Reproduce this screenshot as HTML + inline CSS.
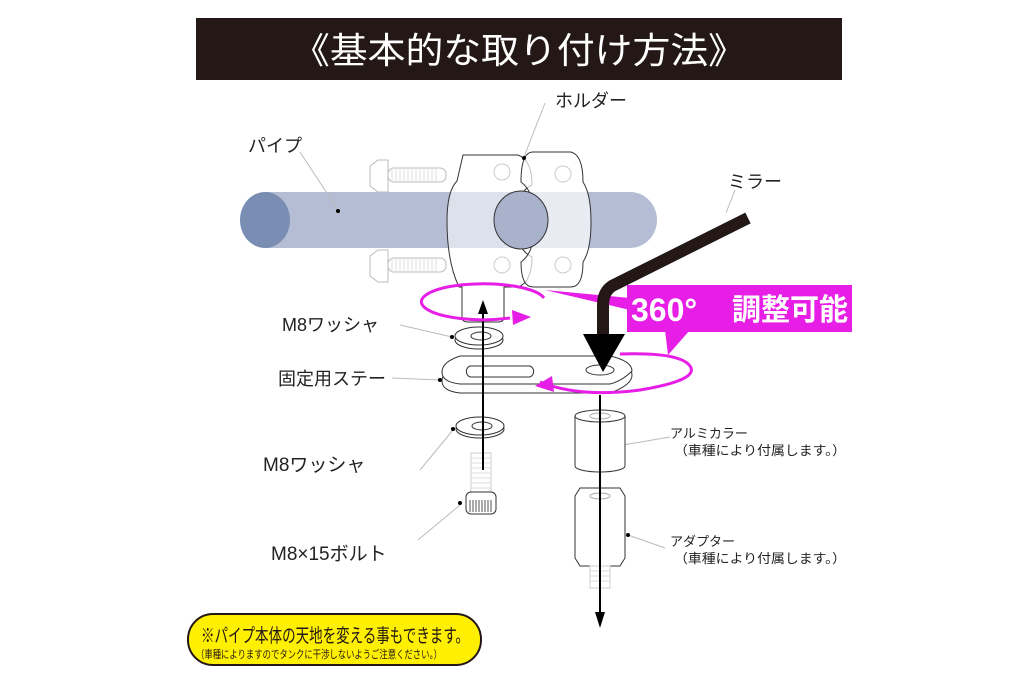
<!DOCTYPE html>
<html><head><meta charset="utf-8"><style>
html,body{margin:0;padding:0;background:#fff;}
svg{display:block;}
text{font-family:"Liberation Sans","Noto Sans CJK JP",sans-serif;}
</style></head><body>
<svg width="1024" height="682" viewBox="0 0 1024 682" xmlns="http://www.w3.org/2000/svg">
<rect width="1024" height="682" fill="#fff"/>
<!-- title -->
<rect x="196" y="18" width="646" height="62" fill="#231815"/>
<text x="292" y="63" font-size="36" fill="#fff" textLength="454" lengthAdjust="spacingAndGlyphs">《基本的な取り付け方法》</text>

<!-- bolts -->
<g fill="#fff" stroke="#bbb" stroke-width="1">
<path d="M370 166 l8 -6 h10 v32 h-10 l-8 -6 z"/><rect x="388" y="168" width="58" height="14" rx="6"/>
<path d="M370 256 l8 -6 h10 v32 h-10 l-8 -6 z"/><rect x="388" y="258" width="58" height="14" rx="6"/>
</g>
<g stroke="#ddd" stroke-width="1">
<path d="M392 168 v14 M396 168 v14 M400 168 v14 M404 168 v14 M408 168 v14 M412 168 v14 M416 168 v14 M420 168 v14 M424 168 v14 M428 168 v14 M432 168 v14 M436 168 v14"/>
<path d="M392 258 v14 M396 258 v14 M400 258 v14 M404 258 v14 M408 258 v14 M412 258 v14 M416 258 v14 M420 258 v14 M424 258 v14 M428 258 v14 M432 258 v14 M436 258 v14"/>
</g>

<!-- pipe -->
<path d="M265 192 H630 a27 28 0 0 1 0 56 H265 z" fill="#b4bdd3"/>
<ellipse cx="265" cy="220" rx="25" ry="28" fill="#7a8db2"/>

<!-- holder left -->
<path d="M463 155 h55 q14 5 14 30 v0 q-10 5 -12 14 q-14 5 -14 22 q0 17 14 22 q2 9 12 14 q0 25 -14 30 h-14 v30 q0 5 -6 5 h-30 q-6 0 -6 -5 v-30 h-3 q-12 -25 -12 -66 q0 -30 10 -40 z" fill="#fff" fill-opacity="0.55" stroke="#333" stroke-width="1"/>
<circle cx="502" cy="172" r="8" fill="none" stroke="#ccc"/>
<circle cx="502" cy="265" r="8" fill="none" stroke="#ccc"/>
<!-- holder right -->
<path d="M533 152 h38 q12 3 12 30 q8 12 8 40 q0 28 -8 40 q0 25 -12 25 h-38 q-12 0 -12 -25 q14 -10 14 -40 q0 -30 -14 -40 q0 -30 12 -30 z" fill="#fff" fill-opacity="0.7" stroke="#333" stroke-width="1"/>
<ellipse cx="521" cy="220" rx="27" ry="29" fill="#a8b2cb" stroke="#333" stroke-width="1"/>
<circle cx="563" cy="174" r="8" fill="none" stroke="#ccc"/>
<circle cx="563" cy="265" r="8" fill="none" stroke="#ccc"/>

<!-- leader lines -->
<g stroke="#bbb" stroke-width="1" fill="none">
<path d="M300 152 L338 210"/><path d="M545 103 L524 157"/><path d="M735 190 L726 213"/>
<path d="M400 325 L452 337"/><path d="M392 378 L440 380"/><path d="M420 470 L453 430"/>
<path d="M418 540 L460 505"/><path d="M623 445 L670 437"/><path d="M628 535 L665 548"/>
</g>
<g fill="#000"><circle cx="338" cy="211" r="2"/><circle cx="524" cy="158" r="2"/><circle cx="452" cy="337" r="2"/><circle cx="440" cy="380" r="2"/><circle cx="453" cy="429" r="2"/><circle cx="460" cy="503" r="2"/><circle cx="622" cy="445" r="2"/><circle cx="628" cy="535" r="2"/></g>

<!-- washer 1 -->
<ellipse cx="479" cy="340" rx="24" ry="9" fill="#fff" stroke="#333"/>
<ellipse cx="479" cy="336" rx="24" ry="9" fill="#fff" stroke="#333"/>
<ellipse cx="481" cy="336" rx="10" ry="4" fill="none" stroke="#333"/>
<!-- stay -->
<path d="M460 360 h150 q22 5 22 15 q0 10 -22 18 h-150 q-18 -2 -18 -12 q0 -10 18 -21 z" fill="#fff" stroke="#333"/>
<path d="M460 356 h150 q22 5 22 15 q-10 10 -22 13 h-150 q-18 -2 -18 -12 q0 -10 18 -16 z" fill="#fff" stroke="#333"/>
<path d="M470 366 h60 a6 6 0 0 1 0 11 h-60 a6 6 0 0 1 0 -11 z" fill="none" stroke="#333"/>
<ellipse cx="600" cy="370" rx="14" ry="5" fill="none" stroke="#333"/>
<!-- washer 2 -->
<ellipse cx="480" cy="429" rx="24" ry="9" fill="#fff" stroke="#333"/>
<ellipse cx="480" cy="426" rx="24" ry="9" fill="#fff" stroke="#333"/>
<ellipse cx="482" cy="426" rx="10" ry="4" fill="none" stroke="#333"/>
<!-- bolt -->
<rect x="471" y="453" width="20" height="40" fill="#fff" stroke="#ccc"/>
<g stroke="#ddd"><path d="M471 458h20M471 463h20M471 468h20M471 473h20M471 478h20M471 483h20M471 488h20"/></g>
<rect x="466" y="492" width="30" height="22" rx="5" fill="#fff" stroke="#333"/>
<g stroke="#555"><path d="M470 500v12M473 500v12M476 500v12M479 500v12M482 500v12M485 500v12M488 500v12M491 500v12"/></g>

<!-- collar -->
<path d="M575 416 v50 a25 6 0 0 0 50 0 v-50" fill="#fff" stroke="#333"/>
<ellipse cx="600" cy="416" rx="25" ry="6" fill="#fff" stroke="#333"/>
<ellipse cx="600" cy="416" rx="10" ry="3" fill="none" stroke="#aaa"/>
<!-- adapter -->
<path d="M580 488 h40 l5 8 v62 l-5 8 h-40 l-5 -8 v-62 z" fill="#fff" stroke="#333"/>
<ellipse cx="600" cy="496" rx="10" ry="3" fill="none" stroke="#aaa"/>
<rect x="590" y="566" width="20" height="22" fill="#fff" stroke="#ccc"/>
<g stroke="#ddd"><path d="M590 571h20M590 576h20M590 581h20"/></g>

<!-- vertical arrows -->
<path d="M483 470 V312" stroke="#000" stroke-width="2"/>
<path d="M478 314 L483 300 L488 314 z" fill="#000"/>
<path d="M600 395 V615" stroke="#000" stroke-width="2"/>
<path d="M595 612 L600 628 L605 612 z" fill="#000"/>

<!-- magenta rings -->
<g fill="none" stroke="#e61ee6" stroke-width="3">
<path d="M544 298 A62 18 0 1 0 510 318"/>
<path d="M540 382 Q580 398 640 390 Q700 380 690 366 Q680 352 620 354"/>
</g>
<path d="M512 310 L531 317 L513 325 z" fill="#e61ee6"/>
<path d="M535 386 L552 376 L554 392 z" fill="#e61ee6"/>
<!-- callout -->
<path d="M545 290 L630 298 L630 310 Z" fill="#e61ee6"/>
<path d="M665 330 L690 330 L668 355 Z" fill="#e61ee6"/>
<rect x="627" y="285" width="225" height="47" fill="#e61ee6"/>
<text x="631" y="321" font-size="32" font-weight="bold" fill="#fff">360°</text>
<text x="732" y="320" font-size="30" font-weight="bold" fill="#fff" textLength="116" lengthAdjust="spacingAndGlyphs">調整可能</text>

<!-- mirror rod -->
<path d="M748 218 L612 286 Q603 292 603 305 V340" fill="none" stroke="#231815" stroke-width="12"/>
<path d="M583 334 H625 L603 372 z" fill="#000"/>

<!-- labels -->
<g font-size="18" fill="#222">
<text x="248" y="152">パイプ</text>
<text x="555" y="107">ホルダー</text>
<text x="728" y="188">ミラー</text>
<text x="282" y="331">M8ワッシャ</text>
<text x="278" y="385">固定用ステー</text>
<text x="263" y="471" font-size="19">M8ワッシャ</text>
<text x="271" y="560" font-size="19">M8×15ボルト</text>
</g>
<g font-size="13" fill="#222">
<text x="670" y="438">アルミカラー</text>
<text x="674" y="455" textLength="172" lengthAdjust="spacingAndGlyphs">（車種により付属します。）</text>
<text x="670" y="546">アダプター</text>
<text x="674" y="563" textLength="172" lengthAdjust="spacingAndGlyphs">（車種により付属します。）</text>
</g>

<!-- yellow note -->
<rect x="188" y="614" width="293" height="51" rx="25" fill="#ffef00" stroke="#231815" stroke-width="2"/>
<text x="201" y="642" font-size="19" fill="#231815" textLength="268" lengthAdjust="spacingAndGlyphs">※パイプ本体の天地を変える事もできます。</text>
<text x="196" y="658" font-size="11" fill="#231815" textLength="246" lengthAdjust="spacingAndGlyphs">（車種によりますのでタンクに干渉しないようご注意ください。）</text>
</svg>
</body></html>
